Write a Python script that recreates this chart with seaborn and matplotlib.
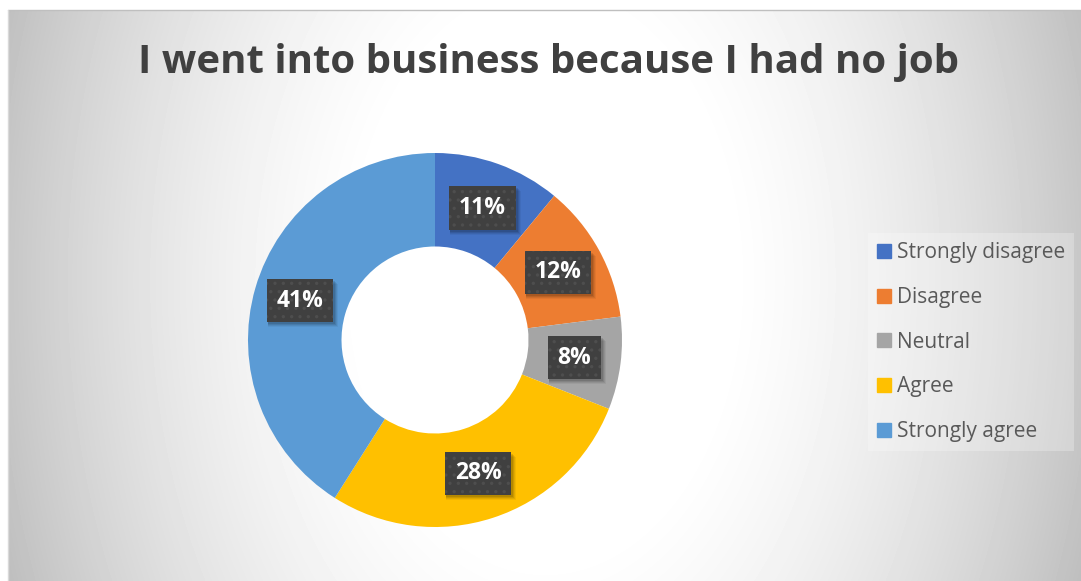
import numpy as np
import matplotlib
matplotlib.use("Agg")
import matplotlib.pyplot as plt
from matplotlib.patches import Rectangle
import seaborn as sns

# Survey responses to "I went into business because I had no job"
categories = ["Strongly disagree", "Disagree", "Neutral", "Agree", "Strongly agree"]
shares = [11, 12, 8, 28, 41]
slice_colors = ["#4472C4", "#ED7D31", "#A5A5A5", "#FFC000", "#5B9BD5"]
title_text = "I went into business because I had no job"

sns.set_style("white")
plt.rcParams["font.family"] = ["Open Sans", "DejaVu Sans"]
plt.rcParams["hatch.linewidth"] = 1.2

W, H = 1081, 581
fig = plt.figure(figsize=(W / 100, H / 100), dpi=100)
fig.patch.set_facecolor("white")

# Chart area with a soft elliptical gradient
bx0, by0 = 8, 10
bg = fig.add_axes([bx0 / W, 0, 1 - bx0 / W, 1 - by0 / H])
gw, gh = W - bx0, H - by0
yy, xx = np.mgrid[0:gh, 0:gw]
cx, cy = 545 - bx0, 280 - by0
dn = ((xx - cx) / 537.0) ** 2 + ((yy - cy) / 800.0) ** 2
shade = np.clip(1.03 - 0.25 * dn, 0.0, 1.0)
bg.imshow(shade, cmap="gray", vmin=0, vmax=1, aspect="auto", interpolation="bilinear")
bg.set_axis_off()
fig.add_artist(plt.Line2D([bx0 / W, 1], [1 - by0 / H, 1 - by0 / H], color="#BFBFBF", lw=1))
fig.add_artist(plt.Line2D([bx0 / W, bx0 / W], [0, 1 - by0 / H], color="#D9D9D9", lw=1))

fig.text(548 / W, 1 - 62 / H, title_text, ha="center", va="center",
         fontsize=29, fontweight="bold", color="#404040")

# Donut
ccx, ccy, R = 435, 340, 187
ax = fig.add_axes([(ccx - R) / W, (H - ccy - R) / H, 2 * R / W, 2 * R / H])
palette = sns.color_palette(slice_colors)
wedges, _ = ax.pie(shares, colors=palette, startangle=90, counterclock=False,
                   radius=1.0, wedgeprops=dict(width=0.5, linewidth=0))
ax.set_xlim(-1, 1)
ax.set_ylim(-1, 1)
ax.set_axis_off()

total = sum(shares)
start = 90.0
labels = []
for val in shares:
    span = 360.0 * val / total
    mid = np.deg2rad(start - span / 2)
    start -= span
    x, y = 0.75 * np.cos(mid), 0.75 * np.sin(mid)
    t = ax.text(x, y, f"{val}%", ha="center", va="center", fontsize=16.5,
                fontweight="bold", color="white", zorder=5,
                bbox=dict(boxstyle="square,pad=0.42", fc="#404040", ec="#4E4E4E",
                          lw=0, hatch=".."))
    labels.append(t)

# Soft drop shadows behind the label boxes
fig.canvas.draw()
renderer = fig.canvas.get_renderer()
for t in labels:
    ext = t.get_bbox_patch().get_window_extent(renderer)
    for k, a in zip((5, 4, 3, 2), (0.05, 0.07, 0.09, 0.11)):
        ax.add_artist(Rectangle((ext.x0 + 1, ext.y0 - k), ext.width + k - 1, ext.height,
                                transform=None, fc="black", alpha=a, ec="none",
                                zorder=4, clip_on=False))

# Legend
handles = [plt.Rectangle((0, 0), 1, 1, color=c) for c in palette]
leg = fig.legend(handles, categories, loc="upper left",
                 bbox_to_anchor=(858 / W, 1 - 223 / H), frameon=True,
                 fontsize=15, labelcolor="#595959", handlelength=0.66,
                 handleheight=0.66, handletextpad=0.3, labelspacing=1.14,
                 borderpad=0.42, fancybox=False, framealpha=0.25)
leg.get_frame().set_facecolor("white")
leg.get_frame().set_edgecolor("none")

fig.savefig("out.png", dpi=100)
